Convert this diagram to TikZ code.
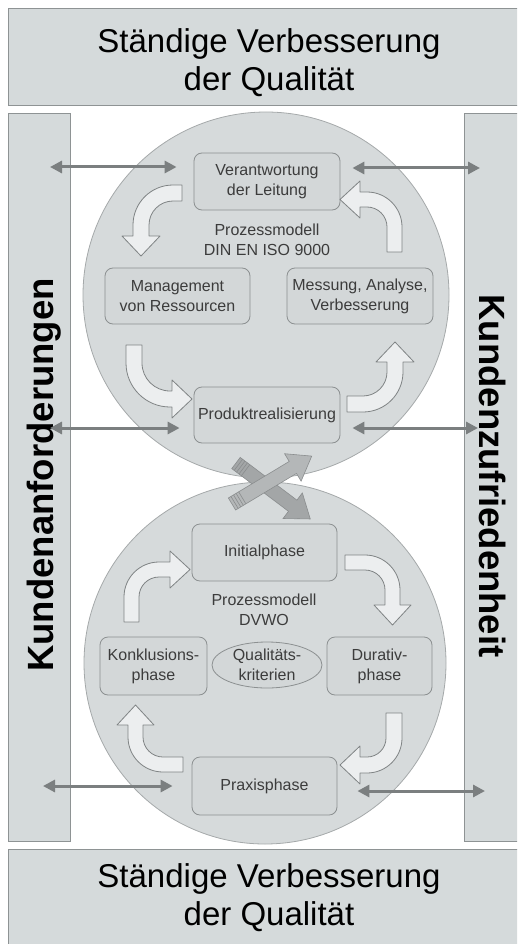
\documentclass[tikz,border=0pt]{standalone}
\usepackage{fontspec}
\setmainfont{Liberation Sans}
\usetikzlibrary{arrows.meta,shapes.geometric}
\definecolor{panelfill}{HTML}{D5DADB}
\definecolor{panelline}{HTML}{8E9394}
\definecolor{discfill}{HTML}{D6DADB}
\definecolor{discline}{HTML}{A5A9AA}
\definecolor{boxfill}{HTML}{D3D7D8}
\definecolor{boxline}{HTML}{8C9091}
\definecolor{txtgray}{HTML}{3C3C3C}
\definecolor{arrowgray}{HTML}{7B7F80}
\definecolor{turnfill}{HTML}{ECEEEF}
\definecolor{turnline}{HTML}{7F8384}
\definecolor{crossfront}{HTML}{B4B7B8}
\definecolor{crossback}{HTML}{A3A6A7}
\definecolor{crossline}{HTML}{8A8D8E}
\tikzstyle{panel}=[draw=panelline,fill=panelfill,line width=1pt]
\tikzstyle{disc}=[draw=discline,fill=discfill,line width=0.8pt]
\tikzstyle{phase}=[draw=boxline,fill=boxfill,rounded corners=8pt,line width=0.8pt,align=center,text=txtgray,font=\fontsize{16}{20}\selectfont,inner sep=2pt]
\tikzstyle{caption}=[align=center,text=txtgray,font=\fontsize{16}{20}\selectfont]
\tikzstyle{bigtext}=[align=center,font=\fontsize{33}{38}\selectfont]
\tikzstyle{sidetext}=[font=\bfseries\fontsize{36.5}{40}\selectfont,anchor=base,inner sep=0pt]
\tikzstyle{twoway}=[draw=arrowgray,line width=3pt,{Triangle[length=12pt,width=12pt]}-{Triangle[length=12pt,width=12pt]}]
\tikzstyle{turn}=[draw=turnline,fill=turnfill,line width=0.8pt,line join=round]
\tikzstyle{cross}=[draw=crossline,line width=0.6pt]
% #1 Lage, #2 gerade Strecke, #3 Radius, #4 Strecke vor der Spitze, #5 Breite
\newcommand{\turnarrow}[5]{%
    \begin{scope}[#1]
        \pgfmathsetmacro\tox{-#2-#3}
        \pgfmathsetmacro\tix{\tox+#5}
        \pgfmathsetmacro\thy{#3+#4}
        \pgfmathsetmacro\tk{0.552*#3}
        \pgfmathsetmacro\tki{0.552*(#3-#5)}
        \filldraw[turn] (0,0) -- (-#2,0) .. controls (-#2-\tk,0) and (\tox,#3-\tk) .. (\tox,#3)
            -- (\tox,\thy) -- (\tox-11,\thy) -- (\tox+#5/2,\thy+20) -- (\tix+11,\thy) -- (\tix,\thy)
            -- (\tix,#3) .. controls (\tix,#3-\tki) and (-#2-\tki,#5) .. (-#2,#5) -- (0,#5) -- cycle;
    \end{scope}}
% #1 Farbe, #2 Start, #3 Winkel, #4 Laenge
\newcommand{\crossarrow}[4]{%
    \begin{scope}[shift={#2},rotate=#3]
        \filldraw[cross,fill=#1] (0,-7) -- (#4-22,-7) -- (#4-22,-16) -- (#4,0) -- (#4-22,16) -- (#4-22,7) -- (0,7) -- cycle;
        \foreach \s in {3,6,9,12}
            \draw[cross] (\s,-7) -- (\s,7);
    \end{scope}}

\begin{document}
\begin{tikzpicture}[x=1pt,y=-1pt]
    \useasboundingbox (0,0) rectangle (517,944);
    \clip (0,0) rectangle (517,944);
    % Rahmen aussen
    \draw[panel] (8,9) rectangle (530,106);
    \draw[panel] (8,849) rectangle (530,960);
    \draw[panel] (8,114) rectangle (70,841);
    \draw[panel] (464,114) rectangle (530,841);
    \node[bigtext] (qtop) at (269,63) {Ständige Verbesserung\\der Qualität};
    \node[bigtext] (qbottom) at (269,898) {Ständige Verbesserung\\der Qualität};
    \node[sidetext,rotate=90] (anforderung) at (53,475) {Kundenanforderungen};
    \node[sidetext,rotate=-90] (zufriedenheit) at (479,476) {Kundenzufriedenheit};
    % die beiden Kreise
    \draw[disc] (266,295) circle [radius=183pt];
    \draw[disc] (265,663) circle [radius=181pt];
    % Prozessmodell DIN EN ISO 9000
    \node[phase,minimum width=146pt,minimum height=57pt] (leitung) at (267,181.5) {Verantwortung\\der Leitung};
    \node[phase,minimum width=145pt,minimum height=56pt] (ressourcen) at (177.5,296) {Management\\von Ressourcen};
    \node[phase,minimum width=146pt,minimum height=56pt] (messung) at (360,296) {Messung, Analyse,\\Verbesserung};
    \node[phase,minimum width=146pt,minimum height=56pt] (produkt) at (267,415) {Produktrealisierung};
    \node[caption] (iso) at (267,240) {Prozessmodell\\DIN EN ISO 9000};
    % Prozessmodell DVWO
    \node[phase,minimum width=145pt,minimum height=57pt] (initial) at (264.5,552.5) {Initialphase};
    \node[phase,minimum width=107pt,minimum height=58pt] (konklusion) at (153.5,666) {Konklusions-\\phase};
    \node[phase,minimum width=105pt,minimum height=58pt] (durativ) at (379.5,666) {Durativ-\\phase};
    \node[phase,minimum width=145pt,minimum height=58pt] (praxis) at (264.5,786) {Praxisphase};
    \node[phase,ellipse,minimum width=110pt,minimum height=46pt,inner sep=0pt] (kriterien) at (267,665) {Qualitäts-\\kriterien};
    \node[caption] (dvwo) at (264,610) {Prozessmodell\\DVWO};
    % Pfeile zu den Seiten
    \coordinate (l1) at (50,167);
    \coordinate (l2) at (50,428);
    \coordinate (l3) at (43,786);
    \coordinate (r1) at (480,168);
    \coordinate (r2) at (478,428);
    \coordinate (r3) at (485,791);
    \foreach \side/\target/\gap in {l1/leitung/17, l2/produkt/14, l3/praxis/19}
        \draw[twoway,shorten >=\gap pt] (\side) -- (\side -| \target.west);
    \foreach \side/\target/\gap in {r1/leitung/12, r2/produkt/12, r3/praxis/20}
        \draw[twoway,shorten <=\gap pt] (\side -| \target.east) -- (\side);
    % Kreislauf oben
    \turnarrow{shift={(182,185)}}{9}{40}{11}{16}
    \turnarrow{shift={(126,345)},rotate=90}{18}{44}{2}{16}
    \turnarrow{shift={(347,412)},rotate=180}{16}{40}{10}{16}
    \turnarrow{shift={(402,252)},rotate=-90}{25}{35}{7}{15}
    % Kreislauf unten
    \turnarrow{shift={(124,622)},rotate=90,xscale=-1}{25}{35}{11}{15}
    \turnarrow{shift={(345,555)},xscale=-1}{20}{35}{15}{15}
    \turnarrow{shift={(402,713)},rotate=-90,xscale=-1}{25}{35}{7}{16}
    \turnarrow{shift={(183,772)},yscale=-1}{20}{35}{12}{15}
    % Kreuzung zwischen den Kreisen
    \crossarrow{crossback}{(236,463)}{-37}{93}
    \crossarrow{crossfront}{(232,504)}{31}{93}
\end{tikzpicture}
\end{document}
